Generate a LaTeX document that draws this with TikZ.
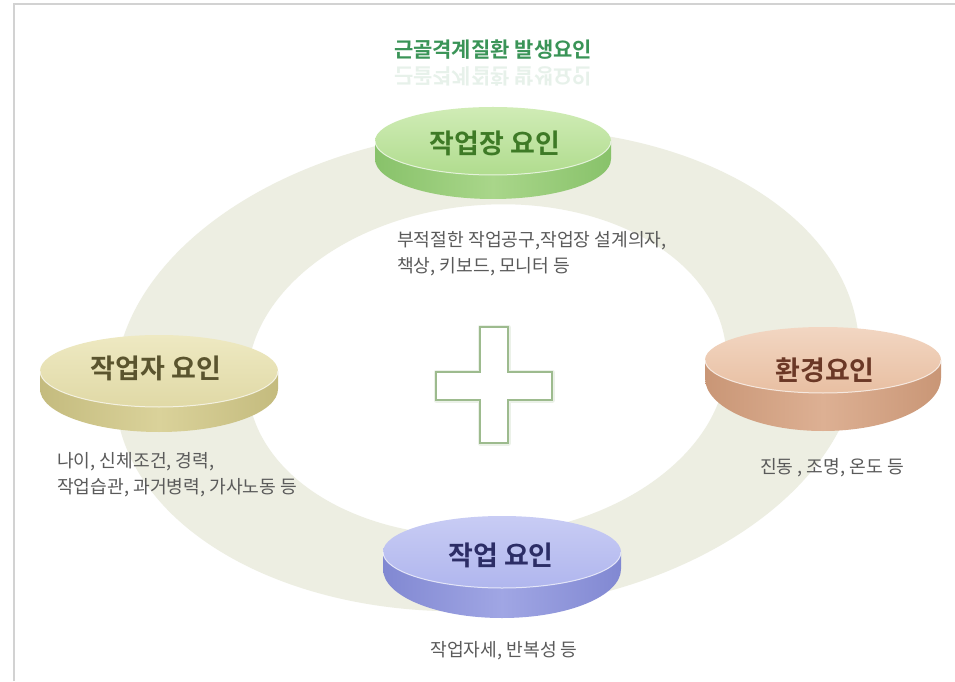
\documentclass[tikz,border=0pt]{standalone}
\usepackage{fontspec}
\newfontfamily\kr{Noto Sans CJK KR}
\newfontfamily\krb{Noto Sans CJK KR Bold}
\definecolor{ringc}{HTML}{EDEEE2}
\definecolor{titlec}{HTML}{3A9457}
\definecolor{descc}{HTML}{5A5A5A}
\definecolor{borderc}{HTML}{D2D2D2}
\definecolor{crossc}{HTML}{9DBB8E}
% green
\definecolor{gT}{HTML}{D0ECB6}\definecolor{gB}{HTML}{B0DC8E}\definecolor{gS}{HTML}{A9D68A}\definecolor{gSd}{HTML}{88C26A}
% yellow
\definecolor{yT}{HTML}{EEE9C2}\definecolor{yB}{HTML}{E0D9A6}\definecolor{yS}{HTML}{DAD29A}\definecolor{ySd}{HTML}{C4BB7E}
% salmon
\definecolor{sT}{HTML}{F2D6C2}\definecolor{sB}{HTML}{E8BFA2}\definecolor{sS}{HTML}{DDB093}\definecolor{sSd}{HTML}{C99676}
% blue
\definecolor{bT}{HTML}{C8CCF4}\definecolor{bB}{HTML}{B0B6EE}\definecolor{bS}{HTML}{A0A6E4}\definecolor{bSd}{HTML}{8188D2}
\definecolor{gL}{HTML}{3E7A26}
\definecolor{yL}{HTML}{5A542E}
\definecolor{sL}{HTML}{6B3826}
\definecolor{bL}{HTML}{2C2D66}
\newcommand\mydisk[7]{%
 \shade[left color=#7Sd, right color=#7Sd, middle color=#7S] (#1-#3,#2) -- (#1-#3,#2-#5) arc[start angle=180,end angle=360,x radius=#3pt,y radius=#6pt] -- (#1+#3,#2) -- cycle;
 \shade[top color=#7T, bottom color=#7B] (#1,#2) ellipse[x radius=#3pt, y radius=#4pt];
 \draw[white, opacity=.7, line width=1pt] (#1-#3,#2) arc[start angle=180,end angle=360,x radius=#3pt,y radius=#4pt];
}
\tikzset{
 lbl/.style={font=\krb\fontsize{27}{30}\selectfont, inner sep=0pt},
 desc/.style={font=\kr\fontsize{18.2}{26}\selectfont, text=descc, inner sep=0pt, align=left}
}
\begin{document}
\begin{tikzpicture}[x=1pt,y=1pt]
\path[use as bounding box, fill=white] (0,0) rectangle (955,681);
% border
\draw[borderc, line width=2pt] (14,0) -- (14,676.5) -- (955,676.5);
% ring
\fill[ringc, even odd rule, rotate around={5:(487,311)}] (487,311) ellipse[x radius=373pt,y radius=240pt] (487,311) ellipse[x radius=240pt, y radius=165pt];
% title
\node[font=\krb\fontsize{21}{24}\selectfont, text=titlec, inner sep=0pt] (title) at (493,631) {근골격계질환 발생요인};
\node[font=\krb\fontsize{21}{24}\selectfont, text=titlec, inner sep=0pt, opacity=.12] (titlerefl) at (493,605) {\scalebox{1}[-1]{근골격계질환 발생요인}};
% cross
\draw[crossc!40, line width=5pt, opacity=.5, line join=round] (480,354) -- (508,354) -- (508,309) -- (552,309) -- (552,281) -- (508,281) -- (508,238) -- (480,238) -- (480,281) -- (436,281) -- (436,309) -- (480,309) -- cycle;
\draw[crossc, line width=1.1pt, fill=white] (480,354) -- (508,354) -- (508,309) -- (552,309) -- (552,281) -- (508,281) -- (508,238) -- (480,238) -- (480,281) -- (436,281) -- (436,309) -- (480,309) -- cycle;
% disks
\mydisk{493}{540}{118}{34}{18}{40}{g}
\mydisk{159}{310}{119}{36}{18}{43}{y}
\mydisk{823}{321}{118}{33}{18}{53}{s}
\mydisk{502}{129}{119}{36}{17}{49}{b}
% labels
\node[lbl, text=gL] (workplace) at (495,538) {작업장 요인};
\node[lbl, text=yL] (worker) at (156,313) {작업자 요인};
\node[lbl, text=sL] (env) at (825,311) {환경요인};
\node[lbl, text=bL] (work) at (501,126) {작업 요인};
% descriptions
\node[desc, anchor=north west] (d1) at (397,450) {부적절한 작업공구,작업장 설계의자,\\책상, 키보드, 모니터 등};
\node[desc, anchor=north west] (d2) at (57,229) {나이, 신체조건, 경력,\\작업습관, 과거병력, 가사노동 등};
\node[desc, anchor=west] (d3) at (760,213) {진동 , 조명, 온도 등};
\node[desc] (d4) at (504,30) {작업자세, 반복성 등};
\end{tikzpicture}
\end{document}
